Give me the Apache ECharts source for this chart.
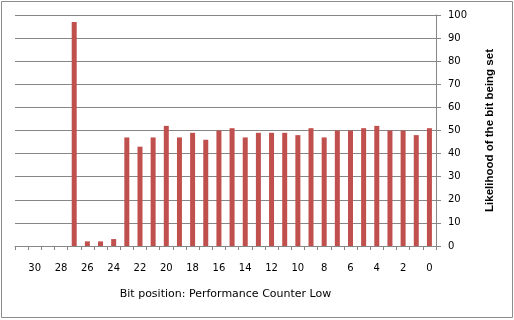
<!DOCTYPE html>
<html><head><meta charset="utf-8">
<script src="https://cdn.jsdelivr.net/npm/echarts@6/dist/echarts.min.js"></script>
<style>html,body{margin:0;padding:0;background:#fff}#c{width:514px;height:320px}</style>
</head><body><div id="c"></div>
<script>
const bitPositions = ['31','30','29','28','27','26','25','24','23','22','21','20','19','18','17','16','15','14','13','12','11','10','9','8','7','6','5','4','3','2','1','0'];
const likelihood = [0,0,0,0,97,2,2,3,47,43,47,52,47,49,46,50,51,47,49,49,49,48,51,47,50,50,51,52,50,50,48,51];
const yTicks = {min:0, max:100, interval:10};
const xTitle = 'Bit position: Performance Counter Low';
const yTitle = 'Likelihood of the bit being set';

const chart = echarts.init(document.getElementById('c'), null, {renderer:'canvas'});
chart.setOption({
  animation:false,
  backgroundColor:'#fff',
  grid:{left:15, right:78, top:15, bottom:74, containLabel:false},
  graphic:[{type:'rect', shape:{x:1.5,y:1.5,width:511,height:316}, style:{fill:null, stroke:'#8c8c8c', lineWidth:1}, silent:true}],
  xAxis:{
    type:'category', data:bitPositions, boundaryGap:true,
    name:xTitle, nameLocation:'middle', nameGap:43,
    nameTextStyle:{fontFamily:'DejaVu Sans', fontSize:11, color:'#000'},
    axisLine:{lineStyle:{color:'#868686', width:1}},
    axisTick:{show:true, interval:0, length:4, lineStyle:{color:'#868686'}},
    axisLabel:{interval:(i)=>i%2===1, margin:17, fontFamily:'DejaVu Sans', fontSize:10, color:'#000'},
    splitLine:{show:false}
  },
  yAxis:{
    type:'value', position:'right', min:yTicks.min, max:yTicks.max, interval:yTicks.interval,
    name:yTitle, nameLocation:'middle', nameRotate:90, nameGap:48,
    nameTextStyle:{fontFamily:'Liberation Sans', fontWeight:'bold', fontSize:11.5, color:'#000'},
    axisLine:{show:true, lineStyle:{color:'#868686', width:1}},
    axisTick:{show:true, length:5, lineStyle:{color:'#868686'}},
    axisLabel:{margin:12, align:'left', fontFamily:'DejaVu Sans', fontSize:10, color:'#000'},
    splitLine:{show:true, lineStyle:{color:'#868686', width:1}}
  },
  series:[{type:'bar', data:likelihood, barWidth:5, itemStyle:{color:'#C0504D'}}]
});
</script></body></html>
